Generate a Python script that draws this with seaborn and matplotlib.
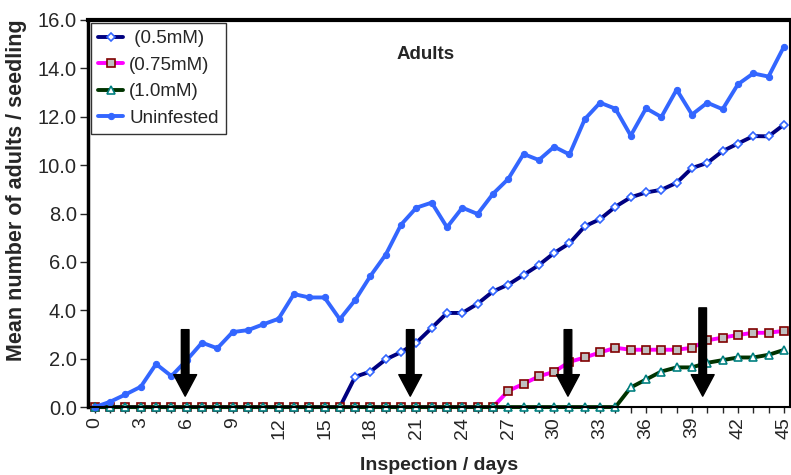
import numpy as np
import pandas as pd
import matplotlib
matplotlib.use('Agg')
import matplotlib.pyplot as plt
import seaborn as sns

days = list(range(46))

adults_05mM = [0, 0, 0, 0, 0, 0, 0, 0, 0, 0, 0, 0, 0, 0, 0, 0, 0,
               1.25, 1.47, 1.97, 2.27, 2.66, 3.27, 3.89, 3.89, 4.27, 4.78, 5.06, 5.46, 5.87, 6.37,
               6.77, 7.47, 7.77, 8.28, 8.67, 8.87, 8.98, 9.27, 9.88, 10.09, 10.58, 10.89, 11.2, 11.19, 11.67]
adults_075mM = [0] * 27 + [0.67, 0.96, 1.27, 1.46, 1.87, 2.05, 2.26, 2.45, 2.37, 2.37, 2.37, 2.37,
                           2.45, 2.76, 2.87, 2.98, 3.07, 3.07, 3.15]
adults_10mM = [0] * 35 + [0.81, 1.14, 1.47, 1.64, 1.64, 1.83, 1.94, 2.05, 2.05, 2.16, 2.36]
uninfested = [0.0, 0.22, 0.52, 0.84, 1.78, 1.28, 1.94, 2.66, 2.43, 3.10, 3.18, 3.42, 3.65, 4.67, 4.53,
              4.53, 3.63, 4.42, 5.42, 6.30, 7.54, 8.24, 8.45, 7.43, 8.24, 7.98, 8.81, 9.43, 10.46, 10.21,
              10.76, 10.44, 11.9, 12.58, 12.33, 11.22, 12.35, 11.99, 13.12, 12.09, 12.58, 12.31, 13.34,
              13.79, 13.66, 14.89]

# arrows marking the treatment times
arrow_days = [5.9, 20.6, 30.9, 39.7]
arrow_tops = [3.2, 3.2, 3.2, 4.1]

sns.set_style('white')
plt.rcParams['font.family'] = ['Liberation Sans', 'DejaVu Sans']

fig = plt.figure(figsize=(7.91, 4.75), dpi=100)
ax = fig.add_axes([0.111, 0.143, 0.8877, 0.815])

series = [
    (adults_05mM, ' (0.5mM)', dict(color='#000080', marker='D', markersize=4.5,
                                   markerfacecolor='white', markeredgecolor='#3366FF', markeredgewidth=1.2)),
    (adults_075mM, '(0.75mM)', dict(color='#FF00FF', marker='s', markersize=6,
                                    markerfacecolor='#C0C0C0', markeredgecolor='#800000', markeredgewidth=1.2)),
    (adults_10mM, '(1.0mM)', dict(color='#003300', marker='^', markersize=6,
                                  markerfacecolor='white', markeredgecolor='#008080', markeredgewidth=1.2)),
    (uninfested, 'Uninfested', dict(color='#3366FF', marker='o', markersize=4.5,
                                    markerfacecolor='#3366FF', markeredgecolor='#3366FF')),
]

for vals, name, style in series:
    sns.lineplot(x=days, y=vals, ax=ax, label=name, linewidth=2.8, clip_on=False, **style)

for d, top in zip(arrow_days, arrow_tops):
    ax.annotate('', xy=(d, 0.45), xytext=(d, top),
                arrowprops=dict(facecolor='black', edgecolor='black', width=5.5,
                                headwidth=16.5, headlength=15.5, shrink=0))

ax.set_xlim(-0.46, 45.4)
ax.set_ylim(0, 16)
ax.set_xticks(range(0, 46, 3))
ax.set_xticks(range(0, 46), minor=True)
ax.set_yticks(np.arange(0, 16.1, 2))
ax.set_yticklabels([f'{v:.1f}' for v in np.arange(0, 16.1, 2)])
ax.tick_params(axis='x', which='both', direction='out', length=4, width=1, bottom=True, labelsize=14,
               labelrotation=90, pad=3)
ax.tick_params(axis='y', direction='out', length=6, width=1, left=True, labelsize=14.5, pad=2)

for side, lw in [('left', 2.5), ('top', 3), ('right', 1.5), ('bottom', 1.5)]:
    ax.spines[side].set_visible(True)
    ax.spines[side].set_color('black')
    ax.spines[side].set_linewidth(lw)

ax.set_xlabel('Inspection / days', fontsize=14, fontweight='bold', labelpad=13)
ax.set_ylabel('Mean number of adults / seedling', fontsize=15.5, fontweight='bold')
ax.yaxis.set_label_coords(-0.086, 0.56)
ax.text(0.481, 0.912, 'Adults', transform=ax.transAxes, ha='center', va='center',
        fontsize=13.5, fontweight='bold')

leg = ax.legend(loc='upper left', bbox_to_anchor=(0.004, 0.993), fontsize=13.5, frameon=True,
                fancybox=False, edgecolor='#333333', framealpha=1, borderpad=0.4,
                labelspacing=0.5, handlelength=1.35, handletextpad=0.3, borderaxespad=0)
leg.get_frame().set_linewidth(1)

fig.savefig('out.png', dpi=100)
